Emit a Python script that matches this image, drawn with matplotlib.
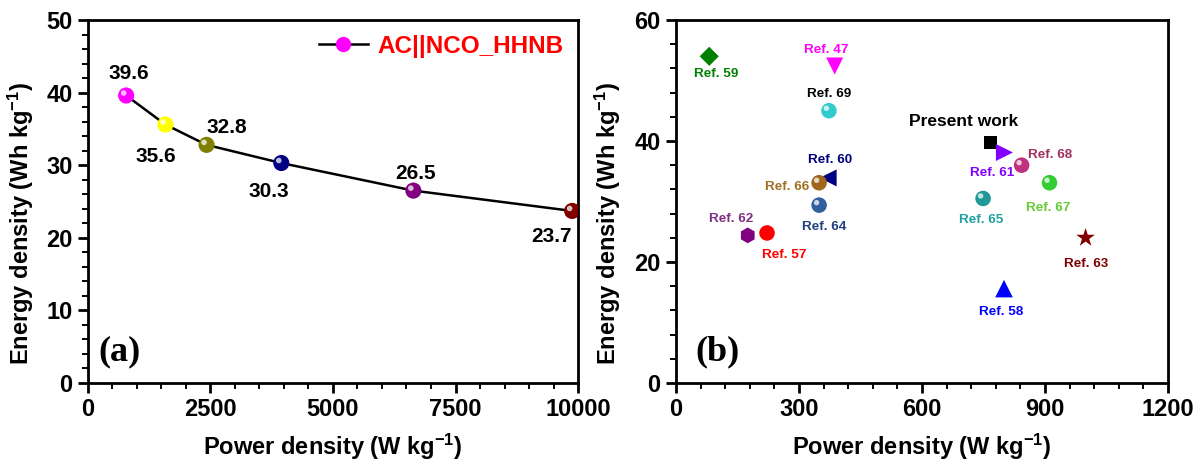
import numpy as np
import matplotlib.pyplot as plt
from matplotlib.transforms import offset_copy

plt.rcParams['font.family'] = ['Liberation Sans', 'DejaVu Sans']
plt.rcParams['font.weight'] = 'bold'
plt.rcParams['mathtext.fontset'] = 'custom'
plt.rcParams['mathtext.bf'] = 'Liberation Sans:bold'
plt.rcParams['mathtext.rm'] = 'Liberation Sans:bold'
plt.rcParams['mathtext.default'] = 'bf'

# ---- panel (a) data
pa_power = [780, 1580, 2420, 3945, 6640, 9880]
pa_energy = [39.6, 35.6, 32.8, 30.3, 26.5, 23.7]
pa_labels = ['39.6', '35.6', '32.8', '30.3', '26.5', '23.7']
pa_colors = ['#ff00ff', '#ffff00', '#808000', '#000080', '#800080', '#800000']
pa_label_off = [(3, 22), (-10, -32), (20, 17), (-12, -28), (2, 17), (-21, -26)]

# ---- panel (b) data
refs = ['Ref. 59', 'Ref. 47', 'Ref. 69', 'Present work', 'Ref. 61', 'Ref. 68',
        'Ref. 67', 'Ref. 65', 'Ref. 63', 'Ref. 58', 'Ref. 60', 'Ref. 66',
        'Ref. 64', 'Ref. 62', 'Ref. 57']
pb_power = [81, 387, 373, 767, 801, 843, 911, 749, 999, 800, 371, 349, 349, 175, 222]
pb_energy = [54.0, 52.4, 45.0, 39.7, 38.1, 36.0, 33.1, 30.5, 24.0, 15.6, 33.9, 33.1, 29.4, 24.4, 24.8]
pb_markers = ['D', 'v', 'o', 's', '>', 'o', 'o', 'o', '*', '^', '<', 'o', 'o', 'h', 'o']
pb_sphere = [False, False, True, False, False, True, True, True, False, False, False, True, True, False, False]
pb_colors = ['#008000', '#ff00ff', '#33cccc', '#000000', '#8000ff', '#c03080',
             '#33cc33', '#209898', '#800000', '#0000ff', '#000080', '#a0661a',
             '#3060a0', '#800080', '#ff0000']
pb_text_colors = ['#008000', '#ff00ff', '#000000', '#000000', '#8000ff', '#a03060',
                  '#66cc33', '#20a0a0', '#800000', '#0000ff', '#000080', '#a07020',
                  '#204080', '#803080', '#ff0000']
pb_label_off = [(7, -18), (-8, 16), (0, 17), (-27, 21), (-12, -21), (28, 10),
                (-1, -25), (-2, -22), (1, -26), (-3, -23), (2, 18), (-32, -4),
                (5, -22), (-17, 16), (17, -22)]
marker_size = {'o': 125, 'D': 95, 'v': 150, 's': 90, '>': 150, '*': 200,
               '^': 160, '<': 150, 'h': 130}

fig = plt.figure(figsize=(11.95, 4.63), dpi=100)
ax1 = fig.add_axes([0.0736, 0.1728, 0.4101, 0.7840])
ax2 = fig.add_axes([0.5657, 0.1728, 0.4117, 0.7840])


def sphere(ax, x, y, color, size):
    ax.scatter(x, y, s=size, color=color, zorder=3, edgecolors='none')
    hl = offset_copy(ax.transData, fig=fig, x=-2.5, y=2.5, units='dots')
    ax.scatter(x, y, s=size * 0.12, color='white', alpha=0.75, zorder=4,
               edgecolors='none', transform=hl)


# ---- (a)
ax1.plot(pa_power, pa_energy, color='black', lw=1.8, zorder=2)
for x, y, c in zip(pa_power, pa_energy, pa_colors):
    sphere(ax1, x, y, c, 135)
for x, y, t, off in zip(pa_power, pa_energy, pa_labels, pa_label_off):
    ax1.annotate(t, (x, y), xytext=off, textcoords='offset pixels',
                 ha='center', va='center', fontsize=15, fontweight='bold')

# legend handle
h, = ax1.plot([], [], color='black', lw=1.8, marker='o', markersize=10,
              markerfacecolor='#ff00ff', markeredgecolor='#ff00ff')
leg = ax1.legend([h], ['AC||NCO_HHNB'], loc='upper right', frameon=False,
                 handlelength=2.0, handletextpad=0.4, borderaxespad=0.2,
                 prop={'size': 17.5, 'weight': 'bold'})
for txt in leg.get_texts():
    txt.set_color('red')

ax1.set_xlim(0, 10000)
ax1.set_ylim(0, 50)
ax1.set_xticks([0, 2500, 5000, 7500, 10000])
ax1.set_xticks(np.arange(0, 10001, 500), minor=True)
ax1.set_yticks(np.arange(0, 51, 10))
ax1.set_yticks(np.arange(0, 51, 2), minor=True)
ax1.text(0.022, 0.085, '(a)', transform=ax1.transAxes, fontsize=26,
         fontweight='bold', family='Liberation Serif', va='center')

# ---- (b)
for x, y, m, sp, c in zip(pb_power, pb_energy, pb_markers, pb_sphere, pb_colors):
    if sp:
        sphere(ax2, x, y, c, marker_size['o'])
    else:
        ax2.scatter(x, y, s=marker_size[m], marker=m, color=c, edgecolors='none', zorder=3)
for x, y, t, c, off in zip(pb_power, pb_energy, refs, pb_text_colors, pb_label_off):
    fs = 12.5 if t == 'Present work' else 9.7
    ax2.annotate(t, (x, y), xytext=off, textcoords='offset pixels',
                 ha='center', va='center', fontsize=fs, fontweight='bold', color=c)

ax2.set_xlim(0, 1200)
ax2.set_ylim(0, 60)
ax2.set_xticks(np.arange(0, 1201, 300))
ax2.set_xticks(np.arange(0, 1201, 60), minor=True)
ax2.set_yticks(np.arange(0, 61, 20))
ax2.set_yticks(np.arange(0, 61, 4), minor=True)
ax2.text(0.039, 0.085, '(b)', transform=ax2.transAxes, fontsize=26,
         fontweight='bold', family='Liberation Serif', va='center')

for ax in (ax1, ax2):
    for sp in ax.spines.values():
        sp.set_linewidth(2)
    ax.tick_params(which='major', direction='out', length=7, width=2, pad=4,
                   labelsize=17, top=False, right=False)
    ax.tick_params(which='minor', direction='out', length=4, width=1.4,
                   top=False, right=False)
    for lab in ax.get_xticklabels() + ax.get_yticklabels():
        lab.set_fontweight('bold')
    ax.set_xlabel(r'Power density (W kg$^{-1}$)', fontsize=17, fontweight='bold')
    ax.set_ylabel(r'Energy density (Wh kg$^{-1}$)', fontsize=17, fontweight='bold')
    ax.xaxis.set_label_coords(0.5, -0.135)

ax1.yaxis.set_label_coords(-0.106, 0.44)
ax2.yaxis.set_label_coords(-0.108, 0.44)

fig.savefig('out.png', dpi=100)
